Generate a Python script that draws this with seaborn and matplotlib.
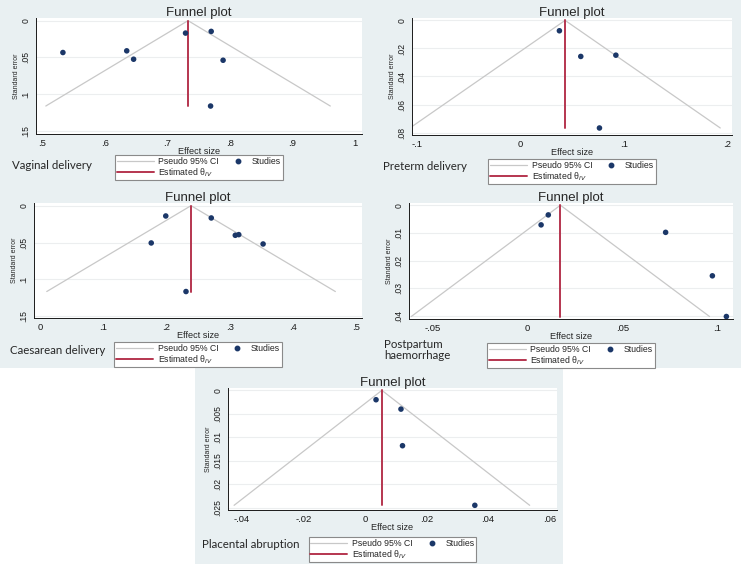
import numpy as np
import pandas as pd
import matplotlib
matplotlib.use("Agg")
import matplotlib.pyplot as plt
import seaborn as sns
from matplotlib.lines import Line2D
from matplotlib.patches import Rectangle
from matplotlib.legend_handler import HandlerLine2D
from matplotlib.ticker import FuncFormatter

# =========================
# DATA
# =========================
vag_es = [0.533, 0.635, 0.646, 0.729, 0.770, 0.789, 0.769]
vag_se = [0.0433, 0.0410, 0.0524, 0.0169, 0.0146, 0.0538, 0.1160]
vag_theta = 0.733

pre_es = [0.0378, 0.0585, 0.0925, 0.0766]
pre_se = [0.0074, 0.0257, 0.0248, 0.0767]
pre_theta = 0.0433

cae_es = [0.199, 0.176, 0.271, 0.309, 0.3145, 0.353, 0.231]
cae_se = [0.0140, 0.0506, 0.0167, 0.0402, 0.0393, 0.0520, 0.1165]
cae_theta = 0.239

pph_es = [0.0109, 0.0071, 0.0729, 0.0976, 0.1050]
pph_se = [0.0035, 0.0071, 0.0098, 0.0255, 0.0402]
pph_theta = 0.0173

pla_es = [0.0036, 0.0117, 0.0122, 0.0357]
pla_se = [0.0020, 0.0040, 0.0118, 0.0245]
pla_theta = 0.0055

vag_xticks = [0.5, 0.6, 0.7, 0.8, 0.9, 1.0]
vag_yticks = [0, 0.05, 0.1, 0.15]
pre_xticks = [-0.1, 0, 0.1, 0.2]
pre_yticks = [0, 0.02, 0.04, 0.06, 0.08]
cae_xticks = [0, 0.1, 0.2, 0.3, 0.4, 0.5]
cae_yticks = [0, 0.05, 0.1, 0.15]
pph_xticks = [-0.05, 0, 0.05, 0.1]
pph_yticks = [0, 0.01, 0.02, 0.03, 0.04]
pla_xticks = [-0.04, -0.02, 0, 0.02, 0.04, 0.06]
pla_yticks = [0, 0.005, 0.01, 0.015, 0.02, 0.025]

labels = ["Vaginal delivery", "Preterm delivery", "Caesarean delivery",
          "Postpartum\nhaemorrhage", "Placental abruption"]

# =========================
# STYLE
# =========================
sns.set_style("white")
plt.rcParams["font.family"] = ["Liberation Sans", "DejaVu Sans"]

W, H = 741, 564
BG = "#e9f0f2"
NAVY = "#1b3768"
RED = "#b5354f"
GREY = "#c8c8c8"


def fx(px):
    return px / W


def fy(py):
    return 1 - py / H


def stata_fmt(v, pos=None):
    s = "%g" % round(v, 6)
    if s.startswith("0."):
        s = s[1:]
    elif s.startswith("-0."):
        s = "-" + s[2:]
    return s


fig = plt.figure(figsize=(W / 100, H / 100), dpi=100)
fig.patch.set_facecolor("white")
# graph region backgrounds
fig.patches.append(Rectangle((0, fy(368)), 1, 1 - fy(368), transform=fig.transFigure,
                             facecolor=BG, edgecolor="none", zorder=-10))
fig.patches.append(Rectangle((fx(195), 0), fx(563) - fx(195), fy(368), transform=fig.transFigure,
                             facecolor=BG, edgecolor="none", zorder=-10))

# (left, top, right, bottom) in pixels, legend top, label pos
panels = [
    dict(es=vag_es, se=vag_se, theta=vag_theta, xt=vag_xticks, yt=vag_yticks,
         xlim=(0.49, 1.011), ylim=(0.154, -0.0036),
         box=(36, 18, 362, 134), leg=155, lab=(12, 165)),
    dict(es=pre_es, se=pre_se, theta=pre_theta, xt=pre_xticks, yt=pre_yticks,
         xlim=(-0.105, 0.205), ylim=(0.0817, -0.0017),
         box=(412, 18, 732, 135), leg=159, lab=(383, 167)),
    dict(es=cae_es, se=cae_se, theta=cae_theta, xt=cae_xticks, yt=cae_yticks,
         xlim=(-0.0095, 0.5095), ylim=(0.1524, -0.0036),
         box=(34, 203, 362, 318), leg=342, lab=(10, 350)),
    dict(es=pph_es, se=pph_se, theta=pph_theta, xt=pph_xticks, yt=pph_yticks,
         xlim=(-0.0627, 0.1085), ylim=(0.0411, -0.0008),
         box=(409, 203, 733, 319), leg=343, lab=(384, 350)),
    dict(es=pla_es, se=pla_se, theta=pla_theta, xt=pla_xticks, yt=pla_yticks,
         xlim=(-0.0445, 0.0624), ylim=(0.0255, -0.0005),
         box=(228, 388, 557, 510), leg=537, lab=(202, 544)),
]

h_ci = Line2D([], [], color=GREY, lw=0.9)
h_th = Line2D([], [], color=RED, lw=1.4)
h_st = Line2D([], [], color=NAVY, marker="o", ls="none", markersize=3.2)

for p, name in zip(panels, labels):
    l, t, r, b = p["box"]
    ax = fig.add_axes([fx(l), fy(b), fx(r) - fx(l), fy(t) - fy(b)])
    ax.set_facecolor("white")

    df = pd.DataFrame({"es": p["es"], "se": p["se"]})
    max_se = df["se"].max()
    th = p["theta"]

    ax.grid(axis="y", color="#eceeef", lw=0.8)
    ax.set_axisbelow(True)

    # pseudo 95% CI funnel
    se_line = np.array([0, max_se])
    ax.plot(th - 1.96 * se_line, se_line, color=GREY, lw=0.9, zorder=2)
    ax.plot(th + 1.96 * se_line, se_line, color=GREY, lw=0.9, zorder=2)
    ax.plot([th, th], [0, max_se], color=RED, lw=1.4, zorder=3)

    sns.scatterplot(data=df, x="es", y="se", ax=ax, color=NAVY, s=16,
                    edgecolor="none", zorder=4, legend=False)

    ax.set_xlim(*p["xlim"])
    ax.set_ylim(*p["ylim"])
    ax.set_xticks(p["xt"])
    ax.set_yticks(p["yt"])
    ax.xaxis.set_major_formatter(FuncFormatter(stata_fmt))
    ax.yaxis.set_major_formatter(FuncFormatter(stata_fmt))
    ax.tick_params(axis="x", length=2.5, width=0.6, pad=1, labelsize=6.8, colors="#1a1a1a")
    ax.tick_params(axis="y", length=2.5, width=0.6, pad=1.5, labelsize=6.2, colors="#1a1a1a")
    for lab in ax.get_yticklabels():
        lab.set_rotation(90)
        lab.set_va("center")

    for s in ["top", "right"]:
        ax.spines[s].set_visible(False)
    for s in ["left", "bottom"]:
        ax.spines[s].set_color("#1a1a1a")
        ax.spines[s].set_linewidth(0.7)

    ax.set_xlabel("Effect size", fontsize=6.6, labelpad=-0.5)
    ax.set_ylabel("Standard error", fontsize=5, labelpad=1)
    ax.set_title("Funnel plot", fontsize=9.5, pad=1.5)

    cx = (l + r) / 2
    ax.legend([h_ci, h_th, h_st], ["Pseudo 95% CI", r"Estimated θ$_{IV}$", "Studies"],
              ncol=2, loc="upper center", bbox_to_anchor=(fx(cx), fy(p["leg"])),
              bbox_transform=fig.transFigure, fontsize=6.3, frameon=True,
              fancybox=False, framealpha=1, edgecolor="#8a8a8a",
              handlelength=4.2, handletextpad=0.55, columnspacing=-1.0,
              borderpad=0.2, labelspacing=0.05, borderaxespad=0,
              handler_map={h_st: HandlerLine2D(numpoints=1, xpad=2.2)})
    ax.get_legend().get_frame().set_linewidth(0.8)

    fig.text(fx(p["lab"][0]), fy(p["lab"][1]), name, ha="left", va="center",
             fontsize=8.3, family=["Lato", "DejaVu Sans"], linespacing=1.1)

fig.savefig("out.png", dpi=100, facecolor=fig.get_facecolor())
